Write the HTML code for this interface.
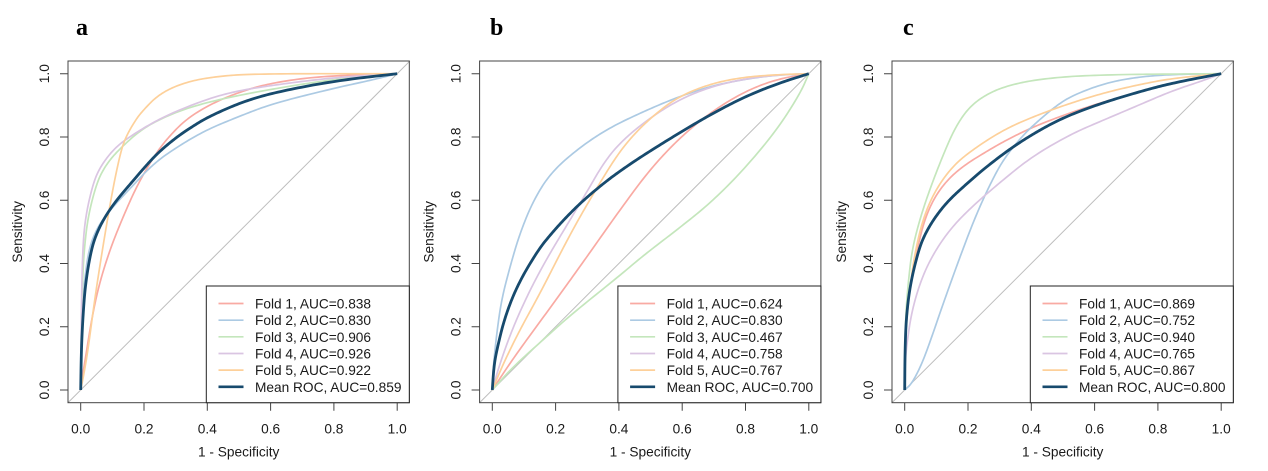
<!DOCTYPE html>
<html><head><meta charset="utf-8"><style>
html,body{margin:0;padding:0;background:#fff;}
svg{display:block;}
text{font-family:"Liberation Sans",Arial,sans-serif;fill:#1a1a1a;}
.t{font-size:13.7px;}
.lab{font-family:"Liberation Serif","Times New Roman",serif;font-weight:bold;font-size:24px;fill:#000;}
</style></head><body>
<svg width="1268" height="471" viewBox="0 0 1268 471" xmlns="http://www.w3.org/2000/svg">
<rect width="1268" height="471" fill="#fff"/>
<text class="lab" x="76" y="35">a</text>
<text class="lab" x="490" y="35">b</text>
<text class="lab" x="903" y="35">c</text>

<!-- ============ PANEL A ============ -->
<g transform="translate(0,0)">
 <g transform="translate(80.7,390) scale(316.5,-316.3)" fill="none">
  <line x1="-0.04" y1="-0.04" x2="1.04" y2="1.04" stroke="#bdbdbd" stroke-width="1" vector-effect="non-scaling-stroke"/>
  <polyline class="cv" fill="none" stroke="#f9aaa3" stroke-width="1.7" stroke-linejoin="round" vector-effect="non-scaling-stroke" points="0,0 0.005,0.04 0.018,0.12 0.034,0.22 0.057,0.33 0.092,0.443 0.134,0.548 0.181,0.653 0.244,0.759 0.298,0.822 0.34,0.86 0.4,0.898 0.482,0.935 0.587,0.968 0.75,0.992 1,1"/>
  <polyline class="cv" fill="none" stroke="#accae3" stroke-width="1.7" stroke-linejoin="round" vector-effect="non-scaling-stroke" points="0,0 0.001,0.126 0.005,0.25 0.011,0.337 0.025,0.443 0.05,0.51 0.092,0.569 0.171,0.653 0.22,0.705 0.276,0.75 0.387,0.818 0.5,0.865 0.608,0.906 0.8,0.954 0.92,0.98 1,1"/>
  <polyline class="cv" fill="none" stroke="#c4e6bc" stroke-width="1.7" stroke-linejoin="round" vector-effect="non-scaling-stroke" points="0,0 0.002,0.2 0.006,0.35 0.011,0.443 0.023,0.548 0.05,0.653 0.076,0.706 0.115,0.755 0.198,0.83 0.303,0.88 0.408,0.912 0.566,0.945 0.8,0.983 1,1"/>
  <polyline class="cv" fill="none" stroke="#dac5e2" stroke-width="1.7" stroke-linejoin="round" vector-effect="non-scaling-stroke" points="0,0 0.002,0.25 0.006,0.443 0.015,0.548 0.039,0.653 0.062,0.706 0.102,0.759 0.145,0.795 0.25,0.859 0.377,0.912 0.48,0.943 0.608,0.964 0.8,0.988 1,1"/>
  <polyline class="cv" fill="none" stroke="#fdd09a" stroke-width="1.7" stroke-linejoin="round" vector-effect="non-scaling-stroke" points="0,0 0.01,0.05 0.023,0.126 0.044,0.285 0.065,0.421 0.086,0.548 0.107,0.664 0.128,0.759 0.143,0.8 0.165,0.84 0.19,0.877 0.25,0.938 0.335,0.975 0.44,0.993 0.566,1 1,1"/>
  <polyline class="cv" fill="none" stroke="#174a6d" stroke-width="2.8" stroke-linejoin="round" vector-effect="non-scaling-stroke" points="0,0 0.002,0.126 0.007,0.232 0.015,0.337 0.033,0.443 0.052,0.5 0.08,0.553 0.117,0.605 0.16,0.655 0.2,0.702 0.244,0.75 0.3,0.797 0.345,0.828 0.4,0.862 0.503,0.908 0.608,0.94 0.8,0.977 1,1"/>
 </g>
</g>

<!-- ============ PANEL B ============ -->
<g transform="translate(411.6,0)">
 <g transform="translate(80.7,390) scale(316.5,-316.3)" fill="none">
  <line x1="-0.04" y1="-0.04" x2="1.04" y2="1.04" stroke="#bdbdbd" stroke-width="1" vector-effect="non-scaling-stroke"/>
  <polyline class="cv" fill="none" stroke="#f9aaa3" stroke-width="1.7" stroke-linejoin="round" vector-effect="non-scaling-stroke" points="0,0 0.066,0.1 0.172,0.245 0.277,0.39 0.4,0.565 0.5,0.7 0.6,0.805 0.7,0.885 0.8,0.945 0.9,0.983 1,1"/>
  <polyline class="cv" fill="none" stroke="#accae3" stroke-width="1.7" stroke-linejoin="round" vector-effect="non-scaling-stroke" points="0,0 0.003,0.074 0.014,0.179 0.029,0.285 0.056,0.39 0.087,0.495 0.13,0.6 0.187,0.69 0.28,0.77 0.372,0.83 0.477,0.88 0.583,0.925 0.688,0.96 0.793,0.982 0.9,0.996 1,1"/>
  <polyline class="cv" fill="none" stroke="#c4e6bc" stroke-width="1.7" stroke-linejoin="round" vector-effect="non-scaling-stroke" points="0,0 0.066,0.074 0.172,0.169 0.245,0.235 0.403,0.362 0.477,0.425 0.583,0.506 0.688,0.59 0.793,0.695 0.899,0.822 0.973,0.938 1,1"/>
  <polyline class="cv" fill="none" stroke="#dac5e2" stroke-width="1.7" stroke-linejoin="round" vector-effect="non-scaling-stroke" points="0,0 0.024,0.084 0.066,0.2 0.119,0.316 0.172,0.415 0.235,0.52 0.298,0.625 0.35,0.715 0.4,0.778 0.477,0.845 0.583,0.915 0.688,0.958 0.793,0.983 0.9,0.996 1,1"/>
  <polyline class="cv" fill="none" stroke="#fdd09a" stroke-width="1.7" stroke-linejoin="round" vector-effect="non-scaling-stroke" points="0,0 0.035,0.084 0.087,0.19 0.151,0.306 0.224,0.45 0.277,0.548 0.34,0.655 0.393,0.74 0.44,0.8 0.5,0.86 0.583,0.925 0.688,0.968 0.793,0.989 0.9,0.997 1,1"/>
  <polyline class="cv" fill="none" stroke="#174a6d" stroke-width="2.8" stroke-linejoin="round" vector-effect="non-scaling-stroke" points="0,0 0.005,0.074 0.014,0.126 0.04,0.232 0.082,0.337 0.145,0.443 0.187,0.495 0.235,0.548 0.288,0.6 0.351,0.653 0.403,0.692 0.477,0.742 0.583,0.808 0.688,0.87 0.793,0.925 0.899,0.968 1,1"/>
 </g>
</g>

<!-- ============ PANEL C ============ -->
<g transform="translate(824,0)">
 <g transform="translate(80.7,390) scale(316.5,-316.3)" fill="none">
  <line x1="-0.04" y1="-0.04" x2="1.04" y2="1.04" stroke="#bdbdbd" stroke-width="1" vector-effect="non-scaling-stroke"/>
  <polyline class="cv" fill="none" stroke="#f9aaa3" stroke-width="1.7" stroke-linejoin="round" vector-effect="non-scaling-stroke" points="0,0 0.001,0.15 0.007,0.232 0.018,0.337 0.039,0.443 0.065,0.548 0.107,0.632 0.171,0.7 0.276,0.765 0.35,0.805 0.421,0.838 0.527,0.878 0.632,0.912 0.738,0.942 0.843,0.968 1,1"/>
  <polyline class="cv" fill="none" stroke="#accae3" stroke-width="1.7" stroke-linejoin="round" vector-effect="non-scaling-stroke" points="0,0 0.023,0.021 0.055,0.084 0.086,0.169 0.118,0.263 0.171,0.411 0.223,0.548 0.276,0.664 0.318,0.738 0.379,0.811 0.421,0.85 0.474,0.895 0.527,0.93 0.632,0.97 0.738,0.99 0.85,0.998 1,1"/>
  <polyline class="cv" fill="none" stroke="#c4e6bc" stroke-width="1.7" stroke-linejoin="round" vector-effect="non-scaling-stroke" points="0,0 0.001,0.15 0.004,0.25 0.011,0.337 0.023,0.443 0.05,0.548 0.086,0.653 0.128,0.759 0.16,0.83 0.2,0.89 0.25,0.93 0.316,0.96 0.421,0.983 0.6,0.997 1,1"/>
  <polyline class="cv" fill="none" stroke="#dac5e2" stroke-width="1.7" stroke-linejoin="round" vector-effect="non-scaling-stroke" points="0,0 0.001,0.08 0.007,0.148 0.023,0.253 0.055,0.358 0.097,0.442 0.15,0.516 0.213,0.58 0.297,0.653 0.402,0.738 0.527,0.81 0.632,0.855 0.738,0.9 0.843,0.945 0.948,0.98 1,1"/>
  <polyline class="cv" fill="none" stroke="#fdd09a" stroke-width="1.7" stroke-linejoin="round" vector-effect="non-scaling-stroke" points="0,0 0.001,0.15 0.007,0.232 0.018,0.337 0.034,0.443 0.06,0.548 0.097,0.632 0.15,0.706 0.213,0.759 0.316,0.825 0.421,0.87 0.527,0.908 0.632,0.94 0.738,0.965 0.843,0.985 1,1"/>
  <polyline class="cv" fill="none" stroke="#174a6d" stroke-width="2.8" stroke-linejoin="round" vector-effect="non-scaling-stroke" points="0,0 0.001,0.126 0.005,0.232 0.018,0.337 0.044,0.443 0.065,0.495 0.097,0.548 0.139,0.6 0.197,0.653 0.255,0.703 0.323,0.755 0.379,0.793 0.45,0.835 0.527,0.872 0.632,0.91 0.738,0.942 0.843,0.97 1,1"/>
 </g>
</g>

<!-- ============ FRAMES, AXES, LEGENDS ============ -->
<g>
 <rect x="68" y="61" width="341.3" height="341.7" fill="none" stroke="#444" stroke-width="1"/>
 <path d="M80.7,402.7V410.7M144,402.7V410.7M207.3,402.7V410.7M270.6,402.7V410.7M333.9,402.7V410.7M397.2,402.7V410.7M68,390H60M68,326.7H60M68,263.5H60M68,200.2H60M68,137H60M68,73.7H60" stroke="#444" stroke-width="1" fill="none"/>
 <g class="t" text-anchor="middle">
  <text x="80.7" y="433.3">0.0</text><text x="144" y="433.3">0.2</text><text x="207.3" y="433.3">0.4</text><text x="270.6" y="433.3">0.6</text><text x="333.9" y="433.3">0.8</text><text x="397.2" y="433.3">1.0</text>
  <text transform="translate(49,390) rotate(-90)">0.0</text><text transform="translate(49,326.7) rotate(-90)">0.2</text><text transform="translate(49,263.5) rotate(-90)">0.4</text><text transform="translate(49,200.2) rotate(-90)">0.6</text><text transform="translate(49,137) rotate(-90)">0.8</text><text transform="translate(49,73.7) rotate(-90)">1.0</text>
  <text x="238.7" y="456.5">1 - Specificity</text>
  <text transform="translate(22,231.8) rotate(-90)">Sensitivity</text>
 </g>
 <rect x="206.3" y="286" width="203" height="116.7" fill="#fff" stroke="#222" stroke-width="1"/>
 <g stroke-width="1.7">
  <line x1="218.5" x2="243.5" y1="303.5" y2="303.5" stroke="#f9aaa3"/>
  <line x1="218.5" x2="243.5" y1="320.2" y2="320.2" stroke="#accae3"/>
  <line x1="218.5" x2="243.5" y1="336.8" y2="336.8" stroke="#c4e6bc"/>
  <line x1="218.5" x2="243.5" y1="353.5" y2="353.5" stroke="#dac5e2"/>
  <line x1="218.5" x2="243.5" y1="370.1" y2="370.1" stroke="#fdd09a"/>
  <line x1="218.5" x2="243.5" y1="386.8" y2="386.8" stroke="#174a6d" stroke-width="2.6"/>
 </g>
 <g class="t">
  <text x="255" y="308.5">Fold 1, AUC=0.838</text>
  <text x="255" y="325.2">Fold 2, AUC=0.830</text>
  <text x="255" y="341.8">Fold 3, AUC=0.906</text>
  <text x="255" y="358.5">Fold 4, AUC=0.926</text>
  <text x="255" y="375.1">Fold 5, AUC=0.922</text>
  <text x="255" y="391.8">Mean ROC, AUC=0.859</text>
 </g>
</g>

<g transform="translate(411.6,0)">
 <rect x="68" y="61" width="341.3" height="341.7" fill="none" stroke="#444" stroke-width="1"/>
 <path d="M80.7,402.7V410.7M144,402.7V410.7M207.3,402.7V410.7M270.6,402.7V410.7M333.9,402.7V410.7M397.2,402.7V410.7M68,390H60M68,326.7H60M68,263.5H60M68,200.2H60M68,137H60M68,73.7H60" stroke="#444" stroke-width="1" fill="none"/>
 <g class="t" text-anchor="middle">
  <text x="80.7" y="433.3">0.0</text><text x="144" y="433.3">0.2</text><text x="207.3" y="433.3">0.4</text><text x="270.6" y="433.3">0.6</text><text x="333.9" y="433.3">0.8</text><text x="397.2" y="433.3">1.0</text>
  <text transform="translate(49,390) rotate(-90)">0.0</text><text transform="translate(49,326.7) rotate(-90)">0.2</text><text transform="translate(49,263.5) rotate(-90)">0.4</text><text transform="translate(49,200.2) rotate(-90)">0.6</text><text transform="translate(49,137) rotate(-90)">0.8</text><text transform="translate(49,73.7) rotate(-90)">1.0</text>
  <text x="238.7" y="456.5">1 - Specificity</text>
  <text transform="translate(22,231.8) rotate(-90)">Sensitivity</text>
 </g>
 <rect x="206.3" y="286" width="203" height="116.7" fill="#fff" stroke="#222" stroke-width="1"/>
 <g stroke-width="1.7">
  <line x1="218.5" x2="243.5" y1="303.5" y2="303.5" stroke="#f9aaa3"/>
  <line x1="218.5" x2="243.5" y1="320.2" y2="320.2" stroke="#accae3"/>
  <line x1="218.5" x2="243.5" y1="336.8" y2="336.8" stroke="#c4e6bc"/>
  <line x1="218.5" x2="243.5" y1="353.5" y2="353.5" stroke="#dac5e2"/>
  <line x1="218.5" x2="243.5" y1="370.1" y2="370.1" stroke="#fdd09a"/>
  <line x1="218.5" x2="243.5" y1="386.8" y2="386.8" stroke="#174a6d" stroke-width="2.6"/>
 </g>
 <g class="t">
  <text x="255" y="308.5">Fold 1, AUC=0.624</text>
  <text x="255" y="325.2">Fold 2, AUC=0.830</text>
  <text x="255" y="341.8">Fold 3, AUC=0.467</text>
  <text x="255" y="358.5">Fold 4, AUC=0.758</text>
  <text x="255" y="375.1">Fold 5, AUC=0.767</text>
  <text x="255" y="391.8">Mean ROC, AUC=0.700</text>
 </g>
</g>

<g transform="translate(824,0)">
 <rect x="68" y="61" width="341.3" height="341.7" fill="none" stroke="#444" stroke-width="1"/>
 <path d="M80.7,402.7V410.7M144,402.7V410.7M207.3,402.7V410.7M270.6,402.7V410.7M333.9,402.7V410.7M397.2,402.7V410.7M68,390H60M68,326.7H60M68,263.5H60M68,200.2H60M68,137H60M68,73.7H60" stroke="#444" stroke-width="1" fill="none"/>
 <g class="t" text-anchor="middle">
  <text x="80.7" y="433.3">0.0</text><text x="144" y="433.3">0.2</text><text x="207.3" y="433.3">0.4</text><text x="270.6" y="433.3">0.6</text><text x="333.9" y="433.3">0.8</text><text x="397.2" y="433.3">1.0</text>
  <text transform="translate(49,390) rotate(-90)">0.0</text><text transform="translate(49,326.7) rotate(-90)">0.2</text><text transform="translate(49,263.5) rotate(-90)">0.4</text><text transform="translate(49,200.2) rotate(-90)">0.6</text><text transform="translate(49,137) rotate(-90)">0.8</text><text transform="translate(49,73.7) rotate(-90)">1.0</text>
  <text x="238.7" y="456.5">1 - Specificity</text>
  <text transform="translate(22,231.8) rotate(-90)">Sensitivity</text>
 </g>
 <rect x="206.3" y="286" width="203" height="116.7" fill="#fff" stroke="#222" stroke-width="1"/>
 <g stroke-width="1.7">
  <line x1="218.5" x2="243.5" y1="303.5" y2="303.5" stroke="#f9aaa3"/>
  <line x1="218.5" x2="243.5" y1="320.2" y2="320.2" stroke="#accae3"/>
  <line x1="218.5" x2="243.5" y1="336.8" y2="336.8" stroke="#c4e6bc"/>
  <line x1="218.5" x2="243.5" y1="353.5" y2="353.5" stroke="#dac5e2"/>
  <line x1="218.5" x2="243.5" y1="370.1" y2="370.1" stroke="#fdd09a"/>
  <line x1="218.5" x2="243.5" y1="386.8" y2="386.8" stroke="#174a6d" stroke-width="2.6"/>
 </g>
 <g class="t">
  <text x="255" y="308.5">Fold 1, AUC=0.869</text>
  <text x="255" y="325.2">Fold 2, AUC=0.752</text>
  <text x="255" y="341.8">Fold 3, AUC=0.940</text>
  <text x="255" y="358.5">Fold 4, AUC=0.765</text>
  <text x="255" y="375.1">Fold 5, AUC=0.867</text>
  <text x="255" y="391.8">Mean ROC, AUC=0.800</text>
 </g>
</g>
</svg>
<script>
(function(){
  var list=document.querySelectorAll('polyline.cv');
  for(var n=0;n<list.length;n++){
    var pl=list[n];
    var pts=pl.getAttribute('points').trim().split(/\s+/).map(function(s){return s.split(',').map(Number);});
    for(var it=0;it<4;it++){
      var out=[pts[0]];
      for(var i=0;i<pts.length-1;i++){
        var p=pts[i],q=pts[i+1];
        out.push([0.75*p[0]+0.25*q[0],0.75*p[1]+0.25*q[1]]);
        out.push([0.25*p[0]+0.75*q[0],0.25*p[1]+0.75*q[1]]);
      }
      out.push(pts[pts.length-1]);
      pts=out;
    }
    pl.setAttribute('points',pts.map(function(p){return p[0].toFixed(5)+','+p[1].toFixed(5);}).join(' '));
  }
})();
</script>
</body></html>
